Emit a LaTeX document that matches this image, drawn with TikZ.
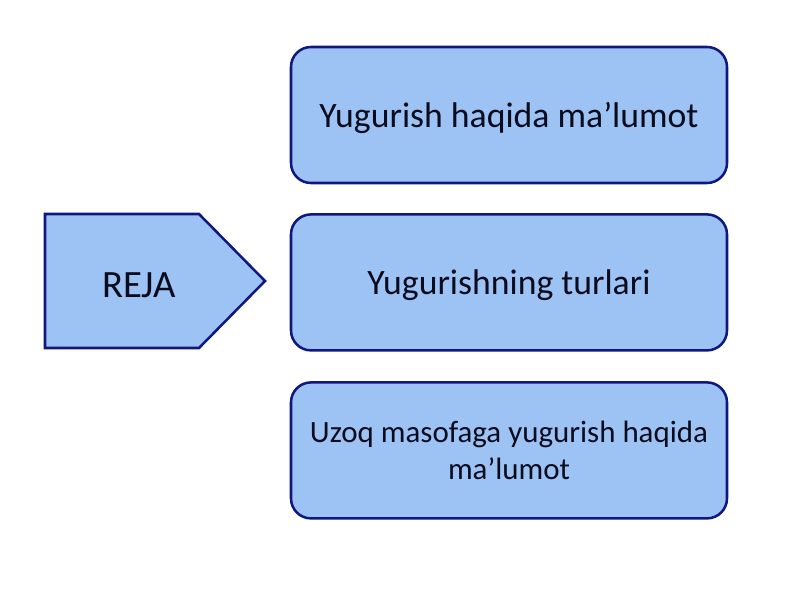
\documentclass[tikz,border=0pt]{standalone}
\usepackage{fontspec}
\setmainfont{Carlito}
\definecolor{boxfill}{RGB}{157,195,245}
\definecolor{boxline}{RGB}{16,24,128}
\definecolor{boxtext}{RGB}{10,12,30}
\begin{document}
\begin{tikzpicture}[
    item/.style={draw=boxline,fill=boxfill,line width=1.8pt,rounded corners=0.5cm,
      minimum width=10.9cm,minimum height=3.4cm,align=center,text depth=0pt,
      text=boxtext,font=\fontsize{25.4}{32}\selectfont},
  ]
  \useasboundingbox (0,0) rectangle (20,15);
  \draw[draw=boxline,fill=boxfill,line width=1.8pt] (1.125,9.65) coordinate (rejaTL)
    -- (4.975,9.65) -- (6.625,7.975) coordinate (rejaTip)
    -- (4.975,6.3) -- (1.125,6.3) coordinate (rejaBL) -- cycle;
  \node (reja) at (3.475,7.88) [text=boxtext,font=\fontsize{27.5}{32}\selectfont] {REJA};
  \node (b1) at (12.725,12.125) [item] {Yugurish haqida ma’lumot};
  \node (b2) at (12.725,7.94) [item] {Yugurishning turlari};
  \node (b3) at (12.725,3.74) [item,text depth=,font=\fontsize{22}{26.8}\selectfont] {Uzoq masofaga yugurish haqida\\ma’lumot};
\end{tikzpicture}
\end{document}
